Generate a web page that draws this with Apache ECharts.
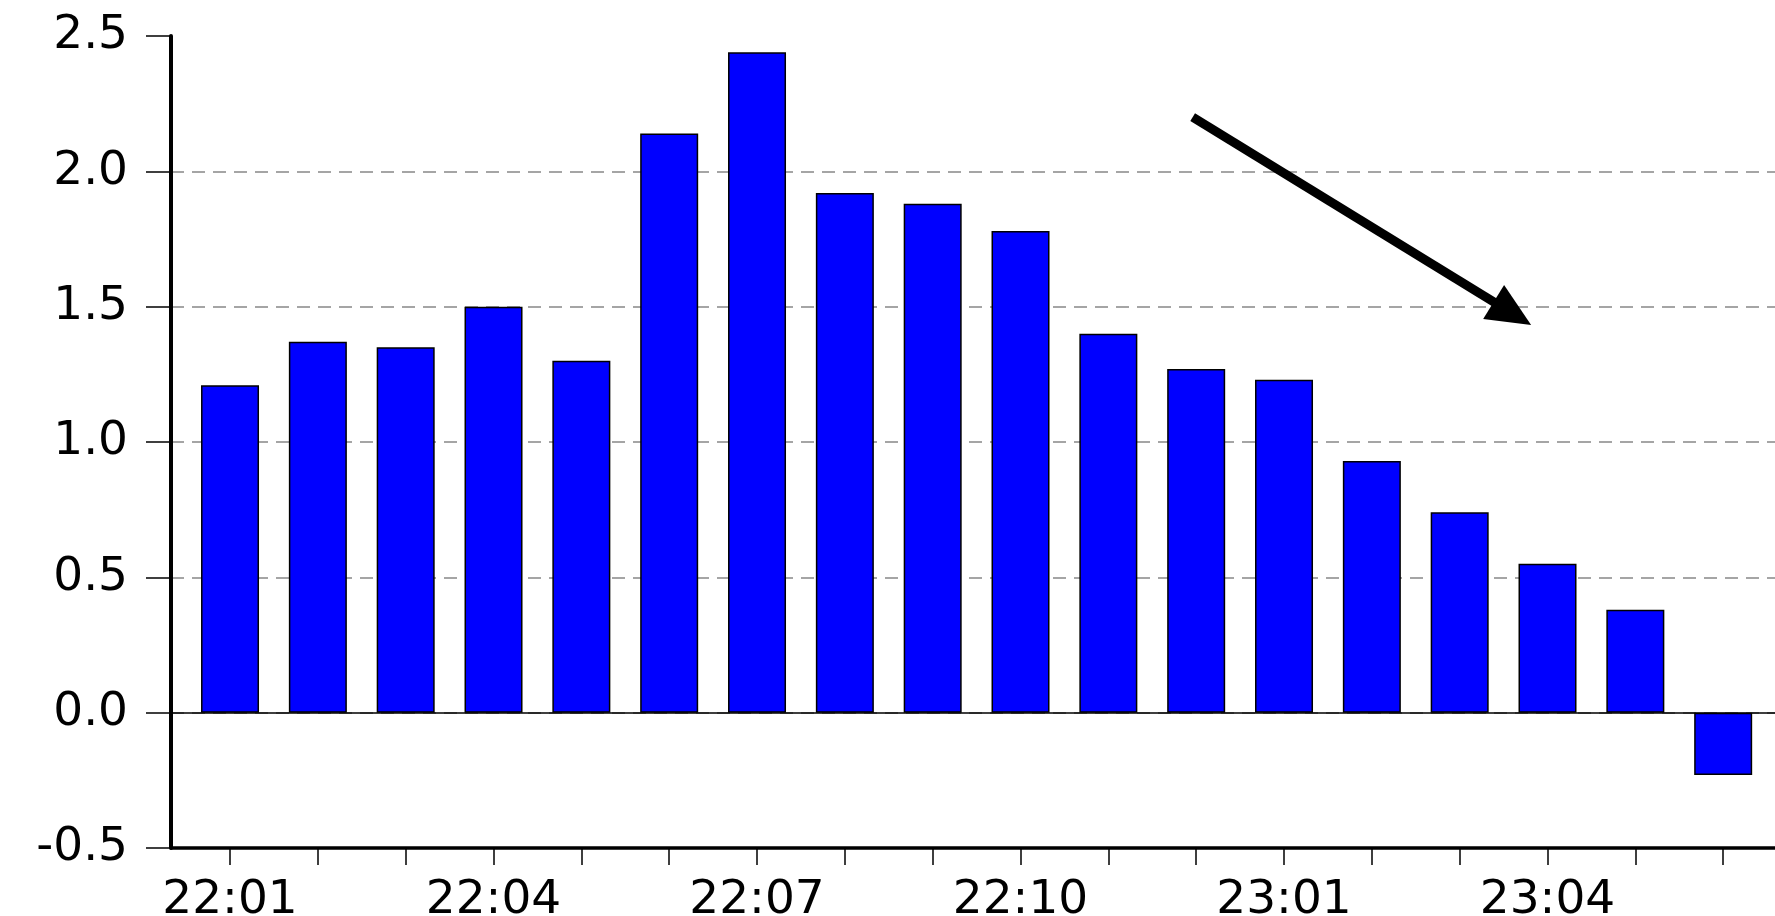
<!DOCTYPE html>
<html>
<head>
<meta charset="utf-8">
<script src="https://cdn.jsdelivr.net/npm/echarts@6/dist/echarts.min.js"></script>
<style>
  html, body { margin: 0; padding: 0; background: #fff; }
  #bar { width: 1775px; height: 916px; }
</style>
</head>
<body>
<div id="bar"></div>
<script>
const categories = [
  "22:01", "22:02", "22:03", "22:04", "22:05", "22:06",
  "22:07", "22:08", "22:09", "22:10", "22:11", "22:12",
  "23:01", "23:02", "23:03", "23:04", "23:05", "23:06",
];
const values = [
  1.21, 1.37, 1.35, 1.50, 1.30, 2.14,
  2.44, 1.92, 1.88, 1.78, 1.40, 1.27,
  1.23, 0.93, 0.74, 0.55, 0.38, -0.23,
];
const labelIndex = [0, 3, 6, 9, 12, 15];
const yTicks = [-0.5, 0.0, 0.5, 1.0, 1.5, 2.0, 2.5];
// trend arrow, in data units (x index, y value)
const arrowFrom = [10.96, 2.2];
const arrowTo = [14.6, 1.475];

const chart = echarts.init(document.getElementById("bar"));

const option = {
  animation: false,
  grid: {
    left: 171,
    right: 0,
    top: 36,
    bottom: 68,
    containLabel: false,
    outerBoundsMode: "none",
  },
  xAxis: {
    type: "value",
    min: -0.672,
    max: 17.59,
    axisLine: {
      show: true,
      onZero: false,
      lineStyle: { color: "#000", width: 3.5 },
    },
    axisTick: {
      show: true,
      length: 17,
      customValues: categories.map((c, i) => i),
      lineStyle: { color: "#000", width: 1.5 },
    },
    axisLabel: {
      customValues: labelIndex,
      formatter: (v) => categories[Math.round(v)],
      fontFamily: "DejaVu Sans",
      fontSize: 47,
      color: "#000",
      margin: 29,
    },
    splitLine: { show: false },
  },
  yAxis: {
    type: "value",
    min: yTicks[0],
    max: yTicks[yTicks.length - 1],
    interval: 0.5,
    axisLine: {
      show: true,
      onZero: false,
      lineStyle: { color: "#000", width: 4 },
    },
    axisTick: {
      show: true,
      length: 25,
      lineStyle: { color: "#000", width: 1.5 },
    },
    axisLabel: {
      formatter: (v) => v.toFixed(1),
      fontFamily: "DejaVu Sans",
      fontSize: 47,
      color: "#000",
      margin: 43,
    },
    splitLine: {
      show: true,
      showMinLine: false,
      showMaxLine: false,
      lineStyle: { color: "#888", type: [13, 8], width: 1.5 },
    },
  },
  series: [
    {
      type: "bar",
      data: values.map((v, i) => [i, v]),
      barWidth: 58,
      itemStyle: {
        color: "#0000ff",
        borderColor: "#000",
        borderWidth: 1.5,
      },
      markLine: {
        silent: true,
        animation: false,
        symbol: ["none", "none"],
        label: { show: false },
        data: [
          {
            yAxis: 0,
            lineStyle: { color: "#000", width: 1.5, type: "solid" },
          },
          [
            {
              coord: arrowFrom,
              lineStyle: { color: "#000", width: 9, type: "solid" },
            },
            { coord: arrowTo, symbol: "triangle", symbolSize: [40, 44] },
          ],
        ],
      },
    },
  ],
};

option && chart.setOption(option);

window.addEventListener("resize", () => {
  chart.resize();
});
</script>
</body>
</html>
